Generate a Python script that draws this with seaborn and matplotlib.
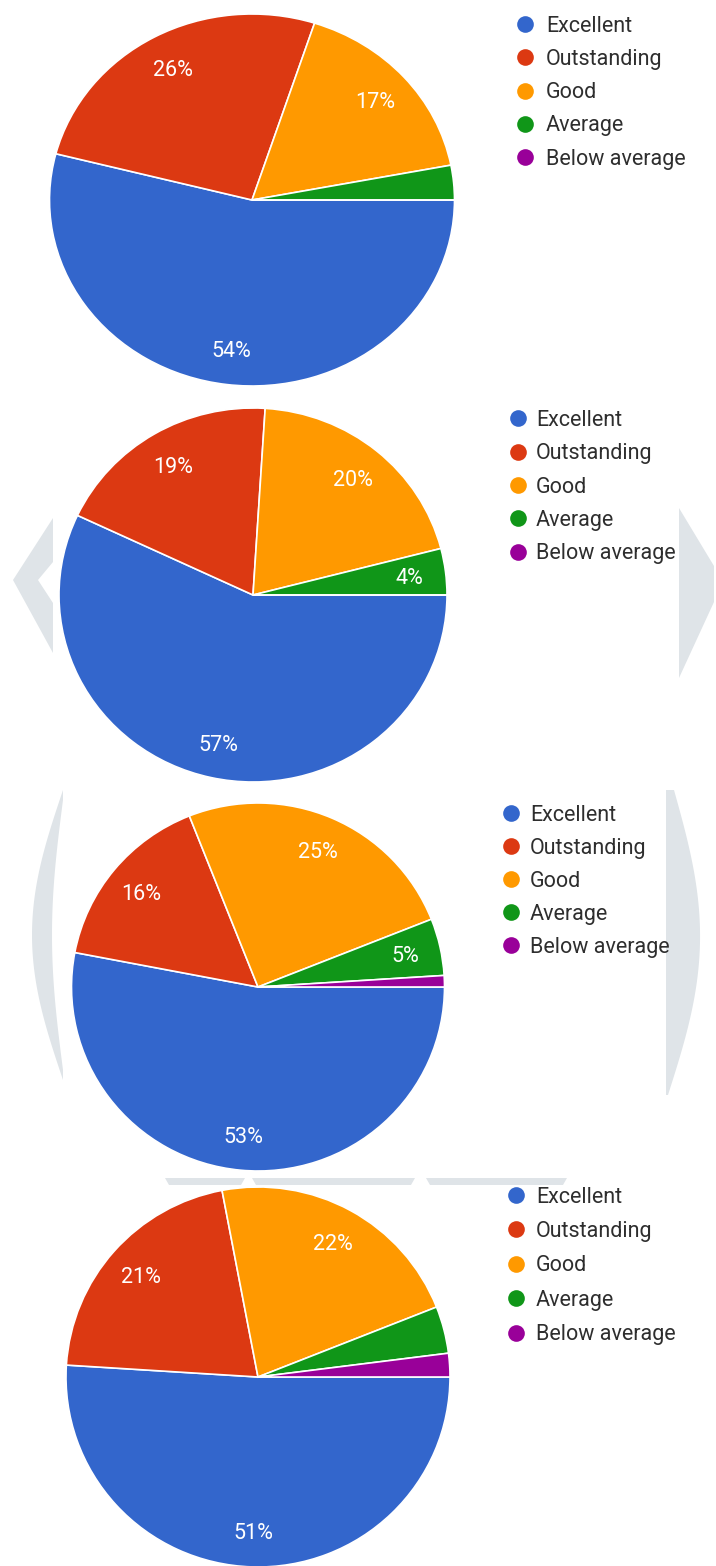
import matplotlib
matplotlib.use("Agg")
import numpy as np
import matplotlib.pyplot as plt
import seaborn as sns
from matplotlib.patches import Polygon

# ---- data -------------------------------------------------------------
categories = ["Excellent", "Outstanding", "Good", "Average", "Below average"]
palette_hex = ["#3366CC", "#DC3912", "#FF9900", "#109618", "#990099"]

shares_1 = [54, 26, 17, 3, 0]
shares_2 = [57, 19, 20, 4, 0]
shares_3 = [53, 16, 25, 5, 1]
shares_4 = [51, 21, 22, 4, 2]

labelled_1 = [True, True, True, False, False]
labelled_2 = [True, True, True, True, False]
labelled_3 = [True, True, True, True, False]
labelled_4 = [True, True, True, False, False]

# ---- style ------------------------------------------------------------
sns.set_theme(style="white")
plt.rcParams["font.family"] = ["Roboto", "DejaVu Sans"]
colors = sns.color_palette(palette_hex)

W, H = 716, 1566
fig = plt.figure(figsize=(W / 100, H / 100), dpi=100)
fig.patch.set_facecolor("white")

# full-figure pixel canvas for the watermark and the legends
bg = fig.add_axes([0, 0, 1, 1], zorder=0)
bg.set_xlim(0, W)
bg.set_ylim(H, 0)
bg.axis("off")

mark = "#dfe4e8"

# faint watermark pieces peeking out between the chart panels
bg.add_patch(Polygon([(53, 518), (13, 580), (53, 653), (53, 603), (38, 580), (53, 562)],
                     closed=True, fc=mark, ec="none"))
bg.add_patch(Polygon([(679, 508), (714, 566), (714, 602), (679, 678)],
                     closed=True, fc=mark, ec="none"))

t = np.linspace(0, 1, 60)
outer = np.column_stack([63 - 31 * np.sin(np.pi * t), 790 + 290 * t])
inner = np.column_stack([63 - 11 * np.sin(np.pi * t), 800 + 270 * t])[::-1]
bg.add_patch(Polygon(np.vstack([outer, inner]), closed=True, fc=mark, ec="none"))

outer_r = np.column_stack([668 + 29 * np.sin(np.pi * t) + 6 * (1 - t), 790 + 305 * t])
edge_r = np.array([[666, 1095], [666, 790]])
bg.add_patch(Polygon(np.vstack([outer_r, edge_r]), closed=True, fc=mark, ec="none"))

for x0, x1 in [(165, 245), (252, 415), (426, 567)]:
    bg.add_patch(Polygon([(x0, 1178), (x1, 1178), (x1 - 4, 1185), (x0 + 4, 1185)],
                         closed=True, fc=mark, ec="none"))

# ---- panels -------------------------------------------------------------
panels = [
    # shares, labelled, (cx, cy, rx, ry), legend (marker x, text x, first y, step)
    (shares_1, labelled_1, (252, 200, 202.5, 186), (525, 546, 24.0, 33.3)),
    (shares_2, labelled_2, (253, 595, 194, 187), (518, 536, 418.3, 33.35)),
    (shares_3, labelled_3, (258, 987, 186.5, 184), (511, 530, 813.3, 32.9)),
    (shares_4, labelled_4, (258, 1377, 192, 190), (516, 536, 1195.0, 34.4)),
]

for shares, labelled, (cx, cy, rx, ry), (mx, tx, ly, step) in panels:
    ax = fig.add_axes([(cx - rx) / W, 1 - (cy + ry) / H, 2 * rx / W, 2 * ry / H], zorder=2)
    ax.patch.set_alpha(0)
    wedges, _, pct = ax.pie(
        shares,
        colors=colors,
        startangle=0,
        counterclock=False,
        radius=1,
        autopct="%.0f%%",
        pctdistance=0.81,
        wedgeprops=dict(edgecolor="white", linewidth=1.2),
        textprops=dict(color="white", fontsize=15.5),
    )
    for txt, show in zip(pct, labelled):
        txt.set_visible(show)
        txt.set_va("center_baseline")
    ax.set_aspect("auto")
    ax.set_xlim(-1, 1)
    ax.set_ylim(-1, 1)
    ax.axis("off")

    for i, (name, c) in enumerate(zip(categories, colors)):
        y = ly + i * step
        bg.plot(mx, y, "o", ms=12, color=c, mec="none")
        bg.text(tx, y + 7.6, name, fontsize=15.5, color="#2e2e2e", va="baseline", ha="left")

fig.savefig("out.png", dpi=100, facecolor="white")
